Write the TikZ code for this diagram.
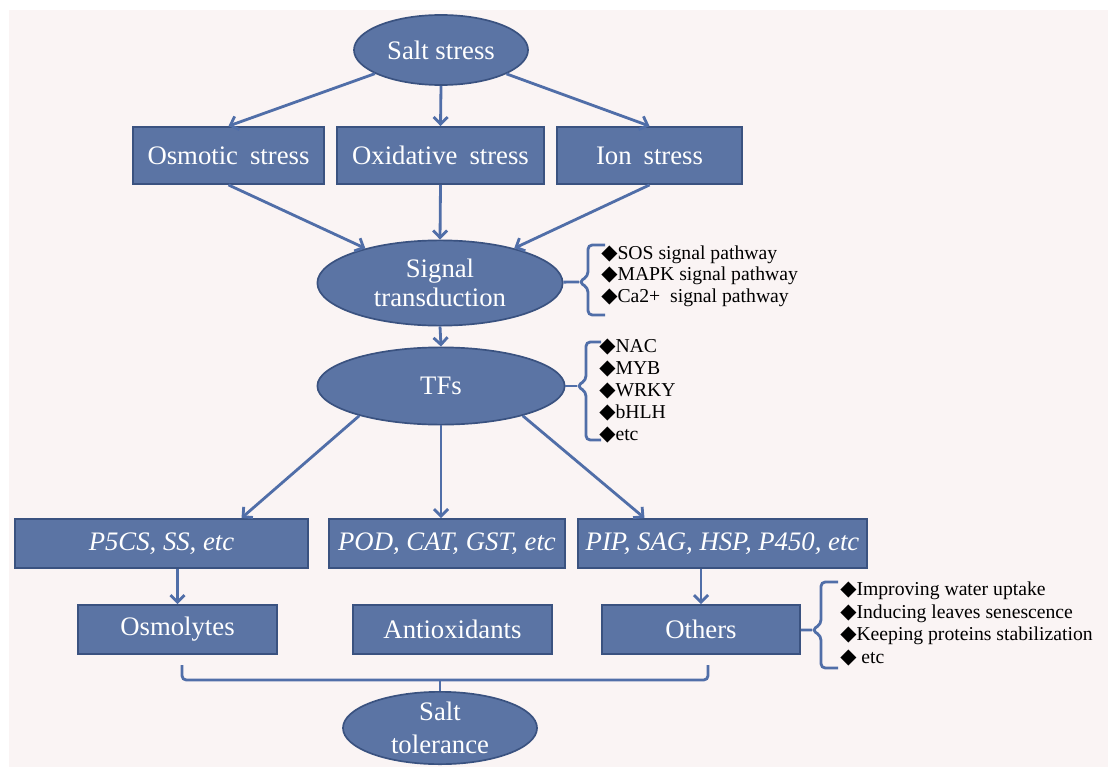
\documentclass[tikz,border=0pt]{standalone}
\usepackage{fontspec}
\setmainfont{Liberation Serif}
\newfontfamily\dejavu{DejaVu Sans}
\usetikzlibrary{arrows.meta, shapes.geometric, positioning, calc}

\definecolor{boxfill}{RGB}{91,116,164}
\definecolor{boxline}{RGB}{58,82,128}
\definecolor{arrowblue}{RGB}{80,110,168}
\definecolor{paper}{RGB}{250,244,244}
\newcommand{\diam}{{\dejavu\fontsize{15}{15}\selectfont ◆}}
\newcommand{\wsp}{\hspace{0.45em}}

\begin{document}
\begin{tikzpicture}[x=0.025cm, y=-0.025cm,
    >={Straight Barb[length=5pt,width=10pt]},
    box/.style={draw=boxline, line width=1.2pt, fill=boxfill, text=white,
        minimum height=1.23cm, inner sep=0pt, font=\fontsize{19}{21}\selectfont},
    oval/.style={ellipse, draw=boxline, line width=1.2pt, fill=boxfill, text=white,
        inner sep=0pt, align=center, font=\fontsize{19}{21}\selectfont},
    link/.style={->, arrowblue, line width=2pt},
    brace/.style={arrowblue, line width=2pt, rounded corners=3pt},
    items/.style={anchor=west, align=left, inner sep=0pt}]
    % Background
    \useasboundingbox (0,0) rectangle (1108,767);
    \fill[paper] (9,10) rectangle (1108,767);

    % Stress
    \node[oval, minimum width=4.35cm, minimum height=1.75cm] (salt) at (441,50) {Salt stress};
    \node[box, minimum width=4.78cm, minimum height=1.43cm] (osm) at (228.5,155.5) {Osmotic\wsp stress};
    \node[box, minimum width=5.18cm, minimum height=1.43cm] (oxi) at (440.5,155.5) {Oxidative\wsp stress};
    \node[box, minimum width=4.63cm, minimum height=1.43cm] (ion) at (649.5,155.5) {Ion\wsp stress};

    % Signalling
    \node[oval, minimum width=6.13cm, minimum height=2.13cm,
        font=\fontsize{19}{20.6}\selectfont] (sig) at (440,283) {Signal\\transduction};
    \node[oval, minimum width=6.18cm, minimum height=1.93cm] (tfs) at (441,386) {TFs};

    % Genes
    \node[box, minimum width=7.33cm] (p5cs) at (161.5,543.5) {\textit{P5CS, SS, etc}};
    \node[box, minimum width=5.9cm] (pod) at (447,543.5) {\textit{POD, CAT, GST, etc}};
    \node[box, minimum width=7.23cm] (pip) at (722.5,543.5) {\textit{PIP, SAG, HSP, P450, etc}};

    % Products
    \node[box, minimum width=4.98cm] (osmo) at (177.5,629.5) {Osmolytes};
    \node[box, minimum width=4.98cm] (anti) at (452.5,629.5) {Antioxidants};
    \node[box, minimum width=4.95cm] (oth) at (701,629.5) {Others};

    \node[oval, minimum width=4.85cm, minimum height=1.75cm,
        font=\fontsize{19}{23}\selectfont] (tol) at (440,728) {Salt\\tolerance};

    % Arrows
    \draw[link] (salt) -- (osm.north);
    \draw[link] (salt.south) -- (oxi.north);
    \draw[link] (salt) -- (ion.north);
    \draw[link] (osm.south) -- (sig);
    \draw[link] (oxi.south) -- (sig.north);
    \draw[link] (ion.south) -- (sig);
    \draw[link] (sig.south) -- (tfs.north);
    \draw[link] (tfs.200) -- ([xshift=2cm]p5cs.north);
    \draw[link] (tfs.south) -- (tfs.south |- pod.north);
    \draw[link] (tfs.-20) -- ([xshift=-1.95cm]pip.north);
    \draw[link] (p5cs.south -| osmo.north) -- (osmo.north);
    \draw[link] (pip.south -| oth.north) -- (oth.north);

    % Braces and lists
    \coordinate (signib) at (579,282);
    \draw[brace] (605,245) -- (588,245) -- (588,276) -- (signib) -- (588,288) -- (588,315) -- (605,315);
    \draw[brace] (sig) -- (signib);
    \node[items, font=\fontsize{14}{15.3}\selectfont] (sigitems) at (601,276)
        {\diam SOS signal pathway\\\diam MAPK signal pathway\\\diam Ca2+\ \ signal pathway};

    \coordinate (tfsnib) at (577,386);
    \draw[brace] (601,342) -- (586,342) -- (586,380) -- (tfsnib) -- (586,392) -- (586,440) -- (601,440);
    \draw[brace] (tfs) -- (tfsnib);
    \node[items, font=\fontsize{14}{15.6}\selectfont] (tfsitems) at (599,391)
        {\diam NAC\\\diam MYB\\\diam WRKY\\\diam bHLH\\\diam etc};

    \coordinate (othnib) at (812,630);
    \draw[brace] (838,582) -- (821,582) -- (821,624) -- (othnib) -- (821,636) -- (821,668) -- (838,668);
    \draw[brace] (oth) -- (othnib);
    \node[items, font=\fontsize{14}{16.1}\selectfont] (othitems) at (840,624)
        {\diam Improving water uptake\\\diam Inducing leaves senescence\\\diam Keeping proteins stabilization\\\diam\ etc};

    % Bottom bracket
    \coordinate (osmoend) at (182,665);
    \coordinate (othend) at (708,665);
    \coordinate (join) at (440,680);
    \draw[brace] (osmoend) -- (182,680) -- (708,680) -- (othend);
    \draw[brace] (join) -- (tol.north);
\end{tikzpicture}
\end{document}
